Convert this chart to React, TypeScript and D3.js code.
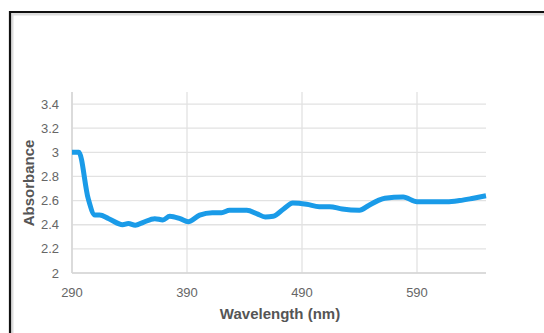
import React from "react";
import * as d3 from "d3";

const wavelengths = [290, 296, 304, 310, 314, 322, 334, 339, 345, 352, 362, 369, 375, 384, 391, 401, 412, 420, 427, 442, 451, 458, 465, 474, 482, 494, 505, 514, 525, 540, 548, 556, 562, 578, 590, 616, 627, 639, 650];
const absorbance = [3.0, 3.0, 2.62, 2.48, 2.48, 2.45, 2.4, 2.41, 2.395, 2.42, 2.45, 2.44, 2.47, 2.45, 2.425, 2.48, 2.5, 2.5, 2.52, 2.52, 2.49, 2.465, 2.47, 2.53, 2.58, 2.57, 2.55, 2.55, 2.53, 2.52, 2.56, 2.6, 2.62, 2.63, 2.59, 2.59, 2.6, 2.62, 2.64];
const xTicks = [290, 390, 490, 590];
const yTicks = [2, 2.2, 2.4, 2.6, 2.8, 3, 3.2, 3.4];

const W = 544, H = 333;
const left = 72, right = 486, top = 92, bottom = 273;
const font = "'Liberation Sans', Arial, Helvetica, sans-serif";

export default function App() {
  const x = d3.scaleLinear().domain([290, 650]).range([left, right]);
  const y = d3.scaleLinear().domain([2, 3.5]).range([bottom, top]);
  const data = wavelengths.map((w, i) => [w, absorbance[i]] as [number, number]);
  const line = d3.line<[number, number]>().x(d => x(d[0])).y(d => y(d[1])).curve(d3.curveMonotoneX);
  return (
    <svg width={W} height={H} style={{ position: "absolute", left: 0, top: 0, background: "#fff" }}>
      <rect x={0} y={0} width={W} height={H} fill="#fff" />
      <path d={`M${10.5},${H + 5} L${10.5},${12.5} L${W + 5},${12.5}`} fill="none" stroke="#ddd" strokeWidth={4} transform="translate(1,1)" />
      <path d={`M${10},${H + 5} L${10},${12} L${W + 5},${12}`} fill="none" stroke="#111" strokeWidth={2.2} />
      {yTicks.map(t => (
        <line key={"gy" + t} x1={left} x2={right} y1={y(t)} y2={y(t)} stroke="#e2e2e2" strokeWidth={1.3} />
      ))}
      {xTicks.map(t => (
        <line key={"gx" + t} x1={x(t)} x2={x(t)} y1={top} y2={bottom} stroke="#e2e2e2" strokeWidth={1.3} />
      ))}
      <line x1={left} x2={left} y1={top} y2={bottom} stroke="#d6d6d6" strokeWidth={1.5} />
      <line x1={left} x2={right} y1={bottom} y2={bottom} stroke="#d6d6d6" strokeWidth={1.5} />
      {yTicks.map(t => (
        <text key={"ly" + t} x={59} y={y(t) + 4.5} textAnchor="end" fontFamily={font} fontSize={13} fill="#666">{String(t)}</text>
      ))}
      {xTicks.map(t => (
        <text key={"lx" + t} x={x(t)} y={297} textAnchor="middle" fontFamily={font} fontSize={13} fill="#666">{String(t)}</text>
      ))}
      <text x={280} y={319} textAnchor="middle" fontFamily={font} fontSize={15} fontWeight="bold" fill="#555">Wavelength (nm)</text>
      <text transform={`translate(34,183) rotate(-90)`} textAnchor="middle" fontFamily={font} fontSize={15} fontWeight="bold" fill="#555">Absorbance</text>
      <path d={line(data) || ""} fill="none" stroke="#1a9be8" strokeWidth={5} strokeLinejoin="round" strokeLinecap="butt" />
    </svg>
  );
}
